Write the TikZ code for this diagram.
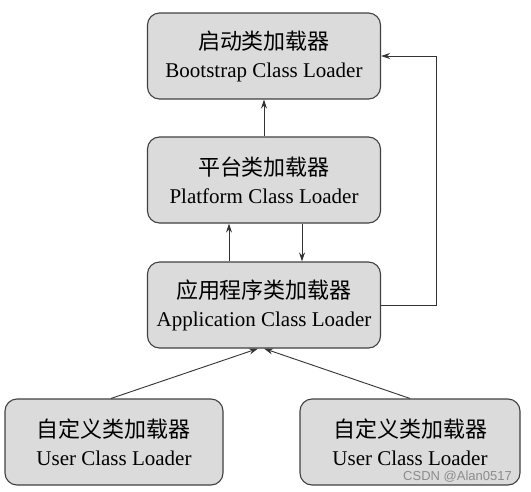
\documentclass[tikz,border=0pt]{standalone}
\usepackage{fontspec}
\setmainfont{Liberation Serif}
\newfontfamily\cjk{Noto Sans CJK SC}
\newfontfamily\wmfont{Liberation Sans}
\usetikzlibrary{arrows.meta}

\newcommand\cn[1]{{\cjk\fontsize{22}{28}\selectfont #1}}

\begin{document}
\begin{tikzpicture}[x=1pt,y=-1pt,
>={Stealth[length=9pt,width=6pt]},
loader/.style={draw=black!75,line width=1.1pt,fill=black!14,rounded corners=12pt,
  minimum height=86pt,align=center,inner sep=0pt,
  font=\fontsize{21}{28}\selectfont},
link/.style={->,draw=black!80,line width=0.9pt}
]
\useasboundingbox (0,0) rectangle (531,491);
% loaders
\node[loader,minimum width=233pt] (boot) at (264,56)
  {\cn{启动类加载器}\\Bootstrap Class Loader};
\node[loader,minimum width=233pt] (plat) at (264,180)
  {\cn{平台类加载器}\\Platform Class Loader};
\node[loader,minimum width=233pt] (app) at (264,305)
  {\cn{应用程序类加载器}\\Application Class Loader};
\node[loader,minimum width=218pt] (user1) at (114,442)
  {\cn{自定义类加载器}\\User Class Loader};
\node[loader,minimum width=220pt] (user2) at (410,442)
  {\cn{自定义类加载器}\\User Class Loader};
% delegation
\draw[link] (plat.north) -- (boot.south);
\draw[link] ([xshift=-35pt]app.north) -- ([xshift=-35pt]plat.south);
\draw[link] ([xshift=38pt]plat.south) -- ([xshift=38pt]app.north);
\draw[link] (app.east) -- ++(55,0) |- (boot.east);
\draw[link] ([xshift=-3pt]user1.north) -- ([xshift=-6pt]app.south);
\draw[link] (user2.north) -- ([xshift=0pt]app.south);
% watermark
\node[text=black!45,anchor=east,inner sep=0pt] (mark) at (512,477)
  {\wmfont\fontsize{13}{14}\selectfont CSDN @Alan0517};
\end{tikzpicture}
\end{document}
